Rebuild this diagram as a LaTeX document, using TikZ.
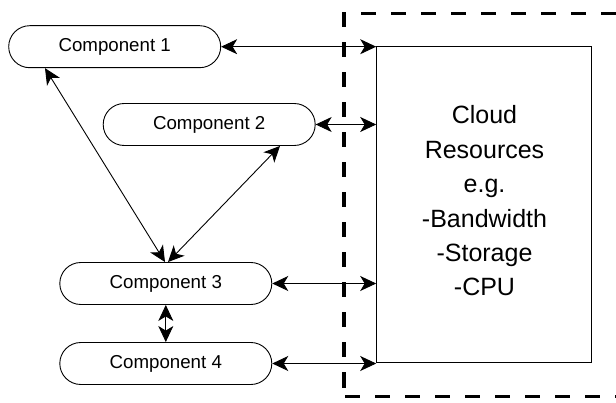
\documentclass[tikz,border=0pt]{standalone}
\usepackage{fontspec}
\setmainfont{Liberation Sans}
\usetikzlibrary{arrows.meta}
\begin{document}
\begin{tikzpicture}[x=1pt,y=-1pt,
  comp/.style={draw,line width=0.9pt,rounded corners=21pt,minimum width=212pt,minimum height=42pt,inner sep=0pt,font=\fontsize{18.7}{22}\selectfont},
  conn/.style={line width=0.9pt,{Stealth[length=16pt,width=15pt,inset=4.5pt]}-{Stealth[length=16pt,width=15pt,inset=4.5pt]}},
  bound/.style={line width=3.5pt,dash pattern=on 15pt off 15pt}]
\useasboundingbox (0,0) rectangle (616,403);
\fill[white] (0,0) rectangle (616,403);
% dashed boundary
\draw[bound] (344,12.5) -- (344,396.5);
\draw[bound,dash phase=15pt] (346,13.3) -- (640,13.3);
\draw[bound] (345,396.5) -- (640,396.5);
% cloud box
\node[draw,line width=0.9pt,minimum width=214.3pt,minimum height=315.8pt,inner sep=0pt] (cloud) at (483.8,204.6) {};
\node[align=center,font=\fontsize{25}{34.4}\selectfont] (ctext) at (484.5,201) {Cloud\\Resources\\e.g.\\-Bandwidth\\-Storage\\-CPU};
% components
\node[comp] (c1) at (114.7,46.7) {Component 1};
\node[comp] (c2) at (209.2,124.5) {Component 2};
\node[comp] (c3) at (165.8,283.5) {Component 3};
\node[comp] (c4) at (165.8,363.5) {Component 4};
% connectors to cloud
\draw[conn] (c1.east) -- (c1.east -| cloud.west);
\draw[conn] (c2.east) -- (c2.east -| cloud.west);
\draw[conn] (c3.east) -- (c3.east -| cloud.west);
\draw[conn] (c4.east) -- (c4.east -| cloud.west);
% between components
\draw[conn] ([xshift=-69.7pt]c1.south) -- ([xshift=-0.8pt]c3.north);
\draw[conn] ([xshift=70.8pt]c2.south) -- ([xshift=2.2pt]c3.north);
\draw[conn] (c3.south) -- (c4.north);
\end{tikzpicture}
\end{document}
